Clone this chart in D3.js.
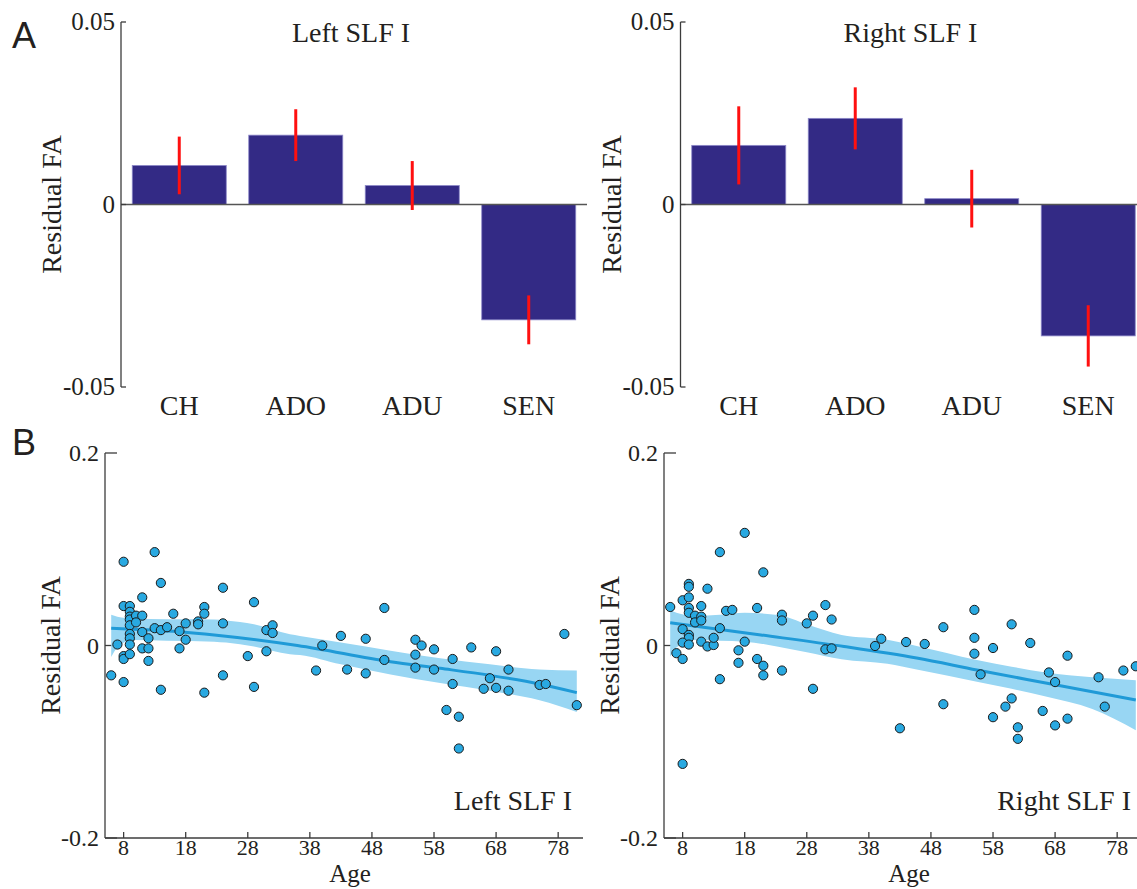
<!DOCTYPE html>
<html><head><meta charset="utf-8">
<script src="https://cdn.jsdelivr.net/npm/d3@7"></script>
<style>
body{margin:0;background:#fff}
svg{display:block}
</style>
</head><body><svg id="c" width="1137" height="889"></svg>
<script>
// ---------- DATA ----------
const groups = ["CH", "ADO", "ADU", "SEN"];
const leftMeans = [0.0107, 0.0190, 0.0052, -0.0316];
const leftErr = [0.0079, 0.0071, 0.0067, 0.0067];
const rightMeans = [0.0162, 0.0236, 0.0016, -0.0360];
const rightErr = [0.0107, 0.0085, 0.0079, 0.0084];
const barTicks = [0.05, 0, -0.05];
const barTickLabels = ["0.05", "0", "-0.05"];

const ageTicks = [8, 18, 28, 38, 48, 58, 68, 78];
const scatterTicks = [0.2, 0, -0.2];
const scatterTickLabels = ["0.2", "0", "-0.2"];

const leftAge = [8,13,14,24,11,29,8,9,21,9,9,9,9,9,9,9,10,10,11,16,21,18,20,20,24,31,32,32,13,14,15,11,17,12,18,7,11,12,17,28,31,8,8,9,12,6,24,8,14,21,29,
  50,40,43,47,39,44,47,50,55,56,55,55,58,58,61,61,64,68,67,66,68,70,70,75,76,79,81,60,62,62];
const leftFA = [0.087,0.097,0.065,0.060,0.050,0.045,0.041,0.041,0.040,0.035,0.030,0.027,0.021,0.012,0.0075,0.001,0.031,0.024,0.031,0.033,0.033,0.023,0.025,0.022,0.023,0.016,0.021,0.013,0.018,0.016,0.019,0.014,0.015,0.0075,0.006,0.001,-0.003,-0.003,-0.003,-0.011,-0.006,-0.011,-0.014,-0.009,-0.016,-0.031,-0.031,-0.038,-0.046,-0.049,-0.043,
  0.039,0.0,0.010,0.007,-0.026,-0.025,-0.029,-0.015,0.006,0.0,-0.0095,-0.023,-0.004,-0.025,-0.014,-0.040,-0.002,-0.006,-0.034,-0.045,-0.044,-0.025,-0.047,-0.041,-0.040,0.012,-0.062,-0.067,-0.074,-0.107];

const rightAge = [18,14,21,9,9,12,8,9,6,9,9,11,10,10,11,11,15,16,20,24,24,29,28,31,32,8,14,9,9,8,9,11,12,13,13,18,7,8,17,17,20,21,21,24,14,31,32,29,8,
  55,50,61,40,39,44,47,55,55,58,64,70,56,67,68,75,79,81,76,50,43,61,60,58,62,62,66,68,70];
const rightFA = [0.117,0.097,0.076,0.064,0.061,0.059,0.047,0.050,0.040,0.039,0.034,0.041,0.031,0.024,0.030,0.026,0.036,0.037,0.039,0.032,0.026,0.031,0.023,0.042,0.027,0.017,0.018,0.011,0.008,0.003,0.001,0.004,-0.001,0.0005,0.008,0.004,-0.008,-0.014,-0.005,-0.018,-0.014,-0.021,-0.031,-0.026,-0.035,-0.004,-0.003,-0.045,-0.123,
  0.037,0.019,0.022,0.007,-0.0005,0.0036,0.0016,0.008,-0.0085,-0.0026,0.0026,-0.0106,-0.030,-0.028,-0.038,-0.033,-0.026,-0.0216,-0.0635,-0.061,-0.086,-0.055,-0.0635,-0.0745,-0.085,-0.097,-0.068,-0.083,-0.076];

// fitted trend
const leftFitAge = [6, 17, 22.6, 36, 51, 59, 67, 75, 81];
const leftFitVal = [0.018, 0.0143, 0.011, 0.0, -0.0168, -0.0237, -0.031, -0.040, -0.049];
const leftBandAge = [6, 7, 9.5, 15, 22.6, 24.5, 29, 34.8, 36.4, 43, 51, 59, 67, 75, 81];
const leftBandLo = [-0.012, -0.002, 0.0057, 0.005, 0.004, 0.003, -0.001, -0.009, -0.0098, -0.0196, -0.030, -0.039, -0.047, -0.057, -0.069];
const leftBandHi = [0.032, 0.030, 0.028, 0.0272, 0.027, 0.026, 0.022, 0.0116, 0.010, 0.003, -0.0054, -0.0133, -0.0195, -0.025, -0.026];

const rightFitAge = [6, 20.6, 34, 45.7, 55.4, 66.5, 81];
const rightFitVal = [0.0237, 0.011, -0.001, -0.013, -0.0254, -0.039, -0.0566];
const rightBandAge = [6, 7, 10, 14, 18, 23.4, 28, 33.6, 41, 45.7, 55.4, 61, 66.5, 74, 81];
const rightBandLo = [-0.0116, -0.002, 0.0057, 0.005, 0.004, -0.0012, -0.007, -0.0143, -0.019, -0.025, -0.0376, -0.045, -0.053, -0.066, -0.088];
const rightBandHi = [0.037, 0.034, 0.031, 0.032, 0.034, 0.0316, 0.022, 0.0109, 0.006, -0.0005, -0.015, -0.022, -0.028, -0.033, -0.036];

// ---------- DRAW ----------
const SERIF = "'Liberation Serif', 'DejaVu Serif', 'Times New Roman', Times, serif";
const SANS = "'Liberation Sans', Arial, sans-serif";
const INK = "#231f20";
const svg = d3.select("#c");
svg.append("rect").attr("width",1137).attr("height",889).attr("fill","#fff");
const AX = "#3c3c3c";

function txt(g, x, y, s, size, anchor) {
  return g.append("text").attr("x", x).attr("y", y).attr("text-anchor", anchor || "start")
    .attr("font-family", SERIF).attr("font-size", size).attr("fill", INK).text(s);
}

function barPanel(x0, title, means, errs) {
  const y = d3.scaleLinear().domain([-0.05, 0.05]).range([387, 22]);
  const x = d3.scaleBand().domain(groups).range([x0, x0 + 466]).paddingInner(0.193).paddingOuter(0.0966);
  const g = svg.append("g");
  g.selectAll("rect.bar").data(groups).enter().append("rect")
    .attr("x", d => x(d)).attr("width", x.bandwidth())
    .attr("y", (d,i) => y(Math.max(0, means[i])))
    .attr("height", (d,i) => Math.abs(y(means[i]) - y(0)))
    .attr("fill", "#332a85").attr("stroke", "#8c88c8").attr("stroke-width", 0.8);
  g.append("line").attr("x1", x0).attr("x2", x0 + 466).attr("y1", y(0)).attr("y2", y(0))
    .attr("stroke", "#555").attr("stroke-width", 1.5);
  g.selectAll("line.err").data(groups).enter().append("line")
    .attr("x1", d => x(d) + x.bandwidth()/2).attr("x2", d => x(d) + x.bandwidth()/2)
    .attr("y1", (d,i) => y(means[i] + errs[i])).attr("y2", (d,i) => y(means[i] - errs[i]))
    .attr("stroke", "#ff1010").attr("stroke-width", 3);
  g.append("line").attr("x1", x0).attr("x2", x0).attr("y1", y(0.05)).attr("y2", y(-0.05))
    .attr("stroke", AX).attr("stroke-width", 1.3);
  barTicks.forEach((t, i) => {
    g.append("line").attr("x1", x0).attr("x2", x0 + 5).attr("y1", y(t)).attr("y2", y(t))
      .attr("stroke", AX).attr("stroke-width", 1.3);
    txt(g, x0 - 6, y(t) + 8, barTickLabels[i], 25, "end");
  });
  groups.forEach(d => txt(g, x(d) + x.bandwidth()/2, 415, d, 28, "middle"));
  txt(g, x0 + 230, 42, title, 28, "middle");
  txt(g, 0, 0, "Residual FA", 28, "middle")
    .attr("transform", `translate(${x0 - 60},${y(0)}) rotate(-90)`);
}

function scatterPanel(x0, label, ages, vals, fitA, fitV, bA, bLo, bHi) {
  const x = d3.scaleLinear().domain([5, 82]).range([x0, x0 + 478]);
  const y = d3.scaleLinear().domain([-0.2, 0.2]).range([838, 453]);
  const g = svg.append("g");
  scatterTicks.forEach((t, i) => {
    g.append("line").attr("x1", x0).attr("x2", x0 + 12).attr("y1", y(t)).attr("y2", y(t))
      .attr("stroke", AX).attr("stroke-width", 1.3);
    txt(g, x0 - 6, y(t) + 8, scatterTickLabels[i], 24, "end");
  });
  const band = d3.area().x((d,i) => x(bA[i])).y0((d,i) => y(bLo[i])).y1((d,i) => y(bHi[i]))
    .curve(d3.curveMonotoneX);
  g.append("path").attr("d", band(bA)).attr("fill", "#98d6f3");
  const line = d3.line().x((d,i) => x(fitA[i])).y((d,i) => y(fitV[i])).curve(d3.curveMonotoneX);
  g.append("path").attr("d", line(fitA)).attr("fill", "none").attr("stroke", "#1f9ad7").attr("stroke-width", 3);
  g.selectAll("circle").data(ages).enter().append("circle")
    .attr("cx", (d) => x(d)).attr("cy", (d,i) => y(vals[i])).attr("r", 4.6)
    .attr("fill", "#29a9e1").attr("stroke", "#1a1a1a").attr("stroke-width", 1);
  g.append("line").attr("x1", x0).attr("x2", x0).attr("y1", y(0.2)).attr("y2", y(-0.2))
    .attr("stroke", AX).attr("stroke-width", 1.3);
  g.append("line").attr("x1", x0).attr("x2", x0 + 478).attr("y1", y(-0.2)).attr("y2", y(-0.2))
    .attr("stroke", AX).attr("stroke-width", 1.3);
  ageTicks.forEach(t => {
    g.append("line").attr("x1", x(t)).attr("x2", x(t)).attr("y1", 838).attr("y2", 832)
      .attr("stroke", AX).attr("stroke-width", 1.3);
    txt(g, x(t), 855, t, 22, "middle");
  });
  txt(g, x0 + 245, 882, "Age", 25, "middle");
  txt(g, x0 + 467, 810, label, 28, "end");
  txt(g, 0, 0, "Residual FA", 28, "middle")
    .attr("transform", `translate(${x0 - 45},${y(0)}) rotate(-90)`);
}

barPanel(121, "Left SLF I", leftMeans, leftErr);
barPanel(680.5, "Right SLF I", rightMeans, rightErr);
scatterPanel(105, "Left SLF I", leftAge, leftFA, leftFitAge, leftFitVal, leftBandAge, leftBandLo, leftBandHi);
scatterPanel(664, "Right SLF I", rightAge, rightFA, rightFitAge, rightFitVal, rightBandAge, rightBandLo, rightBandHi);

svg.append("text").attr("x", 12).attr("y", 48).attr("font-size", 36).attr("font-family", SANS)
  .attr("fill", INK).text("A");
svg.append("text").attr("x", 12).attr("y", 455).attr("font-size", 36).attr("font-family", SANS)
  .attr("fill", INK).text("B");
</script>
</body></html>
